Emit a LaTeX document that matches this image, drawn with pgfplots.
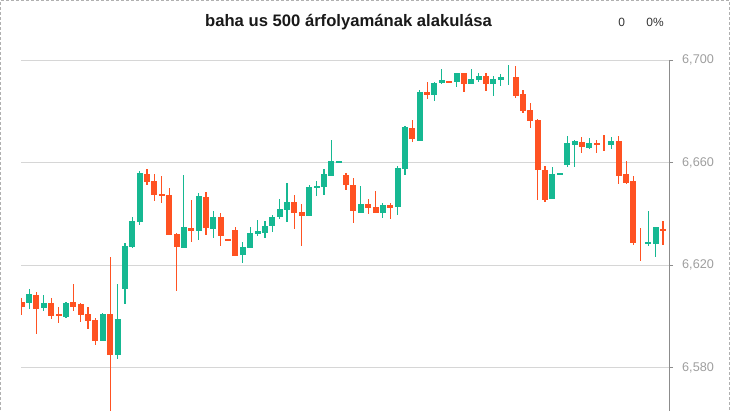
\documentclass[border=0pt]{standalone}
\usepackage{fontspec}
\setmainfont{Liberation Sans}
\usepackage{pgfplots}
\usepackage{pgfplotstable}
\pgfplotsset{compat=1.18}

\definecolor{cup}{RGB}{22,184,146}
\definecolor{cdown}{RGB}{255,82,34}
\definecolor{gridgray}{RGB}{214,214,214}
\definecolor{axisgray}{RGB}{140,140,140}
\definecolor{labelgray}{RGB}{158,158,158}
\definecolor{framegray}{RGB}{176,176,176}

% candle index, open, high, low, close
\pgfplotstableread{
i  o      h      l      c
0  6605.6 6607.4 6600.6 6603.8
2  6608.4 6609.6 6593.3 6603.1
4  6605.3 6607.2 6599.2 6600.3
5  6601.0 6603.7 6597.6 6600.3
7  6605.7 6612.7 6602.3 6603.8
8  6604.9 6605.3 6598.0 6600.7
9  6601.0 6603.7 6595.3 6598.4
10 6598.7 6599.4 6589.0 6590.6
12 6601.0 6623.2 6561.0 6585.1
17 6655.6 6657.6 6651.3 6652.5
18 6652.9 6655.6 6645.1 6647.6
19 6647.8 6654.8 6644.3 6647.2
20 6647.4 6650.2 6631.9 6631.9
21 6632.2 6632.6 6610.1 6627.3
23 6634.9 6645.5 6629.2 6633.5
25 6646.7 6648.6 6631.9 6634.7
27 6638.9 6640.8 6627.6 6631.6
28 6630.3 6630.3 6629.6 6629.6
29 6633.8 6634.9 6623.8 6623.8
37 6644.7 6647.4 6634.2 6640.4
38 6640.8 6643.9 6627.5 6639.2
44 6655.2 6656.0 6649.4 6651.3
45 6651.3 6654.1 6636.5 6641.2
47 6643.9 6645.9 6640.0 6642.4
48 6642.8 6649.0 6640.4 6640.4
50 6643.5 6644.3 6638.1 6642.4
53 6673.6 6676.7 6668.2 6669.4
55 6687.6 6691.5 6685.0 6686.6
58 6691.9 6691.9 6691.3 6691.3
60 6695.0 6695.0 6687.7 6690.9
63 6693.9 6695.0 6688.1 6690.9
67 6693.5 6697.8 6685.4 6686.2
68 6686.9 6688.4 6679.6 6680.3
69 6680.6 6683.3 6673.7 6676.4
70 6676.7 6677.1 6645.6 6657.3
71 6657.2 6658.8 6644.8 6645.6
76 6668.1 6670.1 6663.9 6666.3
78 6667.7 6668.9 6663.9 6667.1
79 6667.5 6670.9 6664.7 6667.5
81 6668.5 6670.5 6651.8 6655.0
82 6655.6 6660.7 6651.8 6652.2
83 6652.9 6654.8 6628.0 6628.8
84 6628.8 6634.6 6621.8 6628.8
87 6634.2 6637.3 6628.0 6633.5
}\downcandles

\pgfplotstableread{
i  o      h      l      c
1  6605.4 6610.8 6603.0 6608.8
3  6603.5 6608.4 6602.3 6605.3
6  6599.9 6605.7 6599.6 6605.3
11 6590.6 6601.4 6590.6 6601.0
13 6585.1 6612.7 6583.6 6599.0
14 6610.9 6628.7 6605.0 6627.5
15 6627.3 6638.9 6626.9 6637.3
16 6637.0 6656.8 6635.8 6656.0
22 6626.9 6655.2 6626.9 6634.9
24 6633.5 6648.2 6630.0 6647.0
26 6634.3 6641.2 6630.8 6638.9
30 6624.1 6629.1 6621.0 6627.1
31 6626.9 6634.9 6626.9 6632.6
32 6632.3 6637.7 6631.6 6633.4
33 6632.7 6637.3 6630.8 6635.3
34 6635.3 6639.6 6633.0 6639.2
35 6638.9 6645.9 6638.1 6642.0
36 6641.6 6652.1 6636.9 6644.7
39 6639.2 6651.3 6639.2 6650.6
40 6650.2 6652.9 6647.0 6651.0
41 6650.6 6657.6 6647.4 6655.6
42 6654.8 6668.9 6654.8 6660.7
43 6659.9 6660.7 6659.9 6660.7
46 6640.4 6651.0 6640.4 6643.9
49 6640.4 6644.3 6638.5 6643.5
51 6642.9 6658.8 6639.8 6658.0
52 6657.7 6674.4 6655.4 6674.0
54 6668.6 6688.4 6668.6 6687.6
56 6686.6 6691.5 6684.2 6691.1
57 6691.3 6696.6 6690.9 6692.3
59 6691.6 6695.0 6689.7 6695.0
61 6690.9 6696.6 6690.9 6692.7
62 6692.4 6695.0 6691.6 6693.9
64 6690.9 6693.9 6686.2 6692.7
65 6692.4 6694.7 6690.1 6693.5
66 6693.5 6698.2 6690.4 6693.5
72 6646.0 6658.4 6646.0 6655.6
73 6655.4 6656.0 6655.4 6656.0
74 6659.3 6670.5 6658.5 6667.7
75 6667.1 6668.9 6658.5 6668.5
77 6665.9 6669.7 6665.5 6667.7
80 6667.1 6670.1 6665.5 6668.5
85 6628.4 6641.2 6627.6 6629.1
86 6628.4 6634.9 6623.4 6634.9
}\upcandles

% wick: high-low range; body: open-close range
\pgfplotsset{
  wick/.style={draw=none, no markers, forget plot,
    error bars/.cd, y dir=both, y explicit, error mark=none,
    error bar style={draw=#1, line width=1.2bp}},
  body/.style={draw=none, no markers, forget plot,
    error bars/.cd, y dir=both, y explicit, error mark=none,
    error bar style={draw=#1, line width=6bp, line cap=butt}},
}

\begin{document}
\begin{tikzpicture}[x=1bp,y=1bp]
\useasboundingbox (0,0) rectangle (730,410);
\clip (0,0) rectangle (730,410);

% outer dashed frame
\draw[framegray, line width=1bp, dash pattern=on 3bp off 2bp]
  (0.5,-20) -- (0.5,409.5) -- (729.5,409.5) -- (729.5,-20);

\node[anchor=base, font=\bfseries\fontsize{16.7}{20}\selectfont, text=black!90]
  at (348.5,383.3) {baha us 500 árfolyamának alakulása};
\node[anchor=base, font=\fontsize{12}{14}\selectfont, text=black!80] at (621.7,384) {0};
\node[anchor=base, font=\fontsize{12}{14}\selectfont, text=black!80] at (655,384) {0\%};

\begin{axis}[
  at={(21bp,349.7bp)}, anchor=north west,
  scale only axis, width=648bp, height=371.6bp,
  xmin=-0.1, xmax=87.82,
  ymin=6555, ymax=6700,
  axis x line=none,
  axis y line*=right,
  y axis line style={draw=axisgray, line width=1bp, -},
  ytick={6580,6620,6660,6700},
  yticklabels={{6,580},{6,620},{6,660},{6,700}},
  tick align=outside,
  major tick length=4bp,
  ytick style={draw=axisgray, line width=1bp},
  yticklabel style={font=\fontsize{12.7}{14}\selectfont, text=labelgray,
    anchor=west, inner sep=0pt, xshift=9bp},
  ymajorgrids,
  grid style={draw=gridgray, line width=1bp},
]
\addplot[wick=cdown] table[x=i, y expr={(\thisrow{h}+\thisrow{l})/2},
  y error expr={(\thisrow{h}-\thisrow{l})/2}] {\downcandles};
\addplot[body=cdown] table[x=i, y expr={(\thisrow{o}+\thisrow{c})/2},
  y error expr={abs(\thisrow{o}-\thisrow{c})/2}] {\downcandles};
\addplot[wick=cup] table[x=i, y expr={(\thisrow{h}+\thisrow{l})/2},
  y error expr={(\thisrow{h}-\thisrow{l})/2}] {\upcandles};
\addplot[body=cup] table[x=i, y expr={(\thisrow{o}+\thisrow{c})/2},
  y error expr={abs(\thisrow{o}-\thisrow{c})/2}] {\upcandles};
\end{axis}
\end{tikzpicture}
\end{document}
